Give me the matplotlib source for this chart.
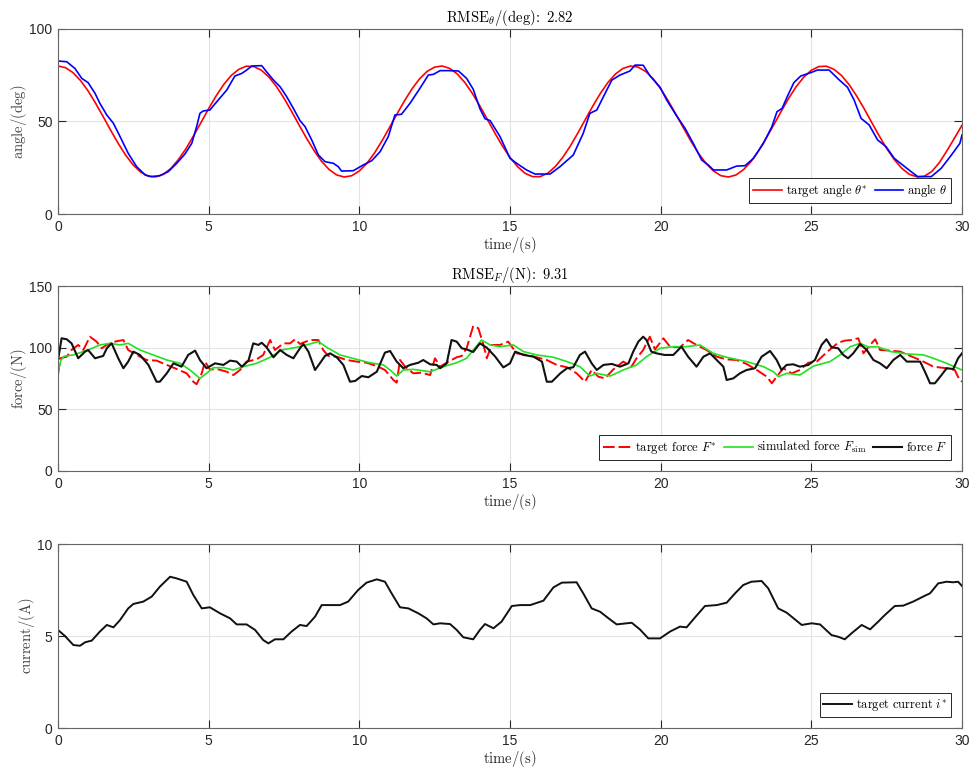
import numpy as np
import matplotlib
matplotlib.use('Agg')
import matplotlib.pyplot as plt

# --- MATLAB-like look: Helvetica-ish ticks, Computer Modern labels ---
plt.rcParams.update({
    'font.family': ['Liberation Sans', 'DejaVu Sans'],
    'mathtext.fontset': 'cm',
    'font.size': 10,
    'axes.edgecolor': '#666666', 'axes.linewidth': 0.8,
    'xtick.color': '#262626', 'ytick.color': '#262626',
    'xtick.direction': 'in', 'ytick.direction': 'in',
    'xtick.top': True, 'ytick.right': True,
    'xtick.major.size': 5.5, 'ytick.major.size': 5.5,
    'xtick.major.width': 0.8, 'ytick.major.width': 0.8,
    'xtick.labelsize': 10, 'ytick.labelsize': 10,
})

# ---------------- data ----------------
t_angle_ref = np.arange(0, 30.01, 0.25)
angle_ref = [
    80.0, 79.1, 76.4, 72.1, 66.5, 59.8, 52.6, 45.2, 38.1, 31.7,
    26.4, 22.6, 20.4, 20.1, 21.5, 24.7, 29.5, 35.4, 42.3, 49.6,
    57.0, 63.9, 70.0, 74.9, 78.2, 79.9, 79.7, 77.7, 74.0, 68.9,
    62.6, 55.5, 48.1, 40.9, 34.2, 28.4, 24.0, 21.1, 20.0, 20.7,
    23.3, 27.4, 32.9, 39.5, 46.7, 54.1, 61.2, 67.7, 73.1, 77.1,
    79.4, 80.0, 78.7, 75.7, 71.1, 65.2, 58.4, 51.1, 43.7, 36.7,
    30.6, 25.6, 22.0, 20.2, 20.2, 22.0, 25.6, 30.6, 36.7, 43.7,
    51.1, 58.4, 65.2, 71.1, 75.7, 78.7, 80.0, 79.4, 77.1, 73.1,
    67.7, 61.2, 54.1, 46.7, 39.5, 32.9, 27.4, 23.3, 20.7, 20.0,
    21.1, 24.0, 28.4, 34.2, 40.9, 48.1, 55.5, 62.6, 68.9, 74.0,
    77.7, 79.7, 79.9, 78.2, 74.9, 70.0, 63.9, 57.0, 49.6, 42.3,
    35.4, 29.5, 24.7, 21.5, 20.1, 20.4, 23.0, 27.8, 34.2, 41.0,
    48.0]

t_angle = [0, 0.29, 0.56, 0.79, 1.0, 1.23, 1.39, 1.62, 1.84, 2.06, 2.33, 2.61, 2.89, 3.1, 3.38,
           3.66, 3.94, 4.21, 4.44, 4.6, 4.71, 4.82, 5.04, 5.27, 5.6, 5.87, 6.1, 6.26, 6.43, 6.76,
           6.92, 7.15, 7.37, 7.59, 7.81, 8.03, 8.2, 8.42, 8.64, 8.86, 9.14, 9.3, 9.41, 9.8, 10.13,
           10.41, 10.69, 10.96, 11.18, 11.4, 11.68, 12.01, 12.29, 12.46, 12.68, 12.95, 13.29, 13.56,
           13.78, 14.0, 14.17, 14.34, 14.67, 15.0, 15.22, 15.55, 15.83, 16.33, 16.66, 17.1, 17.43,
           17.65, 17.88, 18.1, 18.38, 18.65, 18.98, 19.15, 19.42, 19.65, 19.98, 20.2, 20.53, 20.81,
           21.08, 21.36, 21.58, 21.75, 22.19, 22.52, 22.8, 23.08, 23.41, 23.69, 23.86, 24.03, 24.2,
           24.42, 24.65, 24.98, 25.2, 25.59, 25.76, 25.93, 26.2, 26.42, 26.65, 26.92, 27.2, 27.48,
           27.75, 28.03, 28.31, 28.53, 28.98, 29.31, 29.65, 29.93, 30.0]
angle = [82.7, 82.3, 78.7, 73.3, 71.0, 65.2, 59.8, 53.5, 49.0, 41.8, 32.8, 25.6, 21.1, 20.2, 20.7,
         22.9, 27.4, 32.4, 38.2, 47.2, 54.4, 55.7, 56.2, 60.7, 67.0, 74.6, 76.0, 77.8, 80.0, 80.2,
         76.9, 72.4, 68.8, 63.4, 57.1, 50.5, 47.2, 40.0, 31.9, 28.3, 27.4, 25.6, 23.2, 23.4, 26.5,
         28.8, 33.7, 41.8, 53.5, 53.9, 59.8, 67.9, 75.1, 75.5, 77.5, 77.5, 77.3, 73.3,
         67.4, 57.0, 51.5, 50.5, 41.8, 30.1, 27.4, 23.8, 21.6, 21.6, 25.6, 31.9, 43.6,
         54.4, 56.2, 63.4, 72.4, 75.1, 77.3, 80.5, 80.4, 74.6, 68.5, 61.6, 53.0, 46.3,
         38.2, 29.2, 26.5, 23.8, 23.8, 25.9, 26.1, 30.1, 38.2, 47.2, 55.3, 57.1, 63.4,
         71.0, 74.6, 76.4, 77.8, 77.8, 75.1, 72.4, 68.5, 61.6, 51.7, 48.1, 40.0, 36.4,
         30.1, 26.5, 22.9, 20.2, 20.2, 24.7, 31.9, 38.2, 42.7]

t_force_ref = [0, 0.07, 0.29, 0.45, 0.67, 0.84, 1.06, 1.28, 1.45, 1.62, 1.89, 2.17, 2.33, 2.61, 2.94,
               3.27, 3.61, 3.94, 4.27, 4.49, 4.6, 4.77, 4.88, 5.04, 5.32, 5.6, 5.82, 6.04, 6.26, 6.59,
               6.81, 7.04, 7.2, 7.48, 7.7, 7.87, 8.03, 8.36, 8.64, 8.8, 8.97, 9.25, 9.58, 9.91, 10.24,
               10.58, 10.85, 11.13, 11.24, 11.35, 11.52, 11.79, 12.07, 12.35, 12.51, 12.68, 12.96,
               13.23, 13.4, 13.56, 13.78, 13.95, 14.12, 14.23, 14.39, 14.67, 14.94, 15.22, 15.55,
               15.89, 16.22, 16.55, 16.89, 17.21, 17.49, 17.71, 17.93, 18.15, 18.43, 18.76, 19.03,
               19.2, 19.42, 19.64, 19.81, 20.09, 20.31, 20.64, 20.91, 21.19, 21.52, 21.86, 22.19,
               22.52, 22.85, 23.19, 23.52, 23.69, 23.85, 24.07, 24.35, 24.62, 24.9, 25.18, 25.5,
               25.73, 25.89, 26.11, 26.33, 26.56, 26.73, 26.95, 27.12, 27.28, 27.64, 27.95, 28.28,
               28.61, 29.05, 29.49, 29.76, 29.92, 30.0]
force_ref = [77.8, 91.4, 92.7, 98.1, 102.2, 98.1, 108.9, 104.9, 99.5, 102.2, 104.9, 106.2, 98.1, 94.1, 90.0,
             89.5, 86.0, 82.7, 79.2, 72.4, 70.3, 79.2, 88.7, 82.4, 82.4, 80.5, 77.8, 81.9, 88.7, 90.5,
             94.1, 106.2, 98.1, 103.5, 103.5, 106.8, 103.0, 106.2, 106.2, 98.1, 93.3, 92.7, 90.0, 88.7, 87.8,
             85.1, 81.9, 73.8, 71.6, 90.0, 84.6, 79.2, 79.7, 77.8, 91.4, 84.6, 88.7,
             92.2, 93.3, 99.5, 117.6, 115.7, 102.2, 91.4, 102.2, 102.2, 104.9, 95.4, 94.1,
             92.2, 90.0, 86.0, 84.1, 79.2, 72.4, 81.9, 76.5, 75.1, 82.4, 88.7, 84.6,
             91.4, 98.1, 108.9, 98.6, 107.6, 100.8, 100.3, 106.2, 102.2, 98.1, 92.7, 90.5,
             90.0, 86.8, 81.9, 76.5, 71.1, 76.5, 83.3, 79.2, 81.9, 87.8, 88.7, 96.0,
             100.8, 104.0, 105.7, 106.2, 107.6, 95.4, 102.2, 106.8, 98.1, 97.6, 96.8, 93.3,
             90.0, 84.6, 83.3, 81.9, 73.8, 72.4]

t_force_sim = [0, 0.1, 0.2, 0.51, 1.0, 1.39, 1.73, 2.06, 2.33, 2.72, 3.16, 3.61, 4.05, 4.38, 4.71, 4.93,
               5.15, 5.49, 5.82, 6.15, 6.59, 7.04, 7.42, 7.92, 8.36, 8.64, 8.97, 9.36, 9.91, 10.35,
               10.8, 11.02, 11.24, 11.46, 11.79, 12.35, 12.79, 13.23, 13.56, 13.78, 14.06, 14.34,
               14.67, 15.11, 15.45, 15.89, 16.45, 16.89, 17.32, 17.65, 17.88, 18.32, 18.76, 19.2,
               19.53, 19.98, 20.42, 20.86, 21.3, 21.75, 22.19, 22.85, 23.41, 23.74, 23.91, 24.18,
               24.62, 25.07, 25.62, 25.95, 26.29, 26.62, 26.9, 27.2, 27.64, 28.19, 28.72, 29.05,
               29.49, 30.0]
force_sim = [80.0, 90.0, 93.0, 94.1, 98.1, 102.2, 103.5, 102.2, 103.5, 98.1, 94.1, 90.0, 87.3, 81.9, 75.1, 79.2,
             83.8, 83.8, 81.9, 84.6, 87.3, 92.2, 98.1, 100.3, 103.0, 104.9, 99.5, 94.1, 90.5, 87.8,
             86.0, 81.9, 77.0, 81.9, 82.4, 80.5, 84.6, 87.8, 91.4, 98.1, 106.2, 102.2,
             100.8, 102.2, 96.8, 94.1, 92.2, 88.7, 84.6, 77.0, 79.2, 77.0, 81.9, 86.0,
             92.7, 99.5, 100.8, 100.8, 102.2, 95.4, 92.2, 88.7, 84.6, 80.5, 76.5, 79.2,
             77.8, 85.1, 88.7, 94.1, 100.8, 103.5, 100.5, 100.8, 96.8, 94.9, 94.1, 91.4,
             87.3, 81.9]

t_force = [0, 0.12, 0.29, 0.45, 0.67, 0.9, 1.0, 1.23, 1.5, 1.62, 1.78, 2.0, 2.17, 2.33, 2.5, 2.72, 3.0,
           3.27, 3.38, 3.61, 3.83, 4.1, 4.32, 4.55, 4.71, 4.93, 5.21, 5.49, 5.71, 5.93, 6.1, 6.32, 6.48,
           6.65, 6.76, 6.92, 7.15, 7.37, 7.59, 7.81, 8.03, 8.14, 8.31, 8.53, 8.69, 8.86, 9.03, 9.25,
           9.47, 9.69, 9.86, 10.08, 10.3, 10.58, 10.85, 11.02, 11.24, 11.46, 11.68, 11.96, 12.12,
           12.35, 12.57, 12.68, 12.9, 13.06, 13.23, 13.4, 13.56, 13.78, 14.0, 14.23, 14.5, 14.78,
           15.0, 15.17, 15.45, 15.78, 16.06, 16.22, 16.39, 16.67, 16.89, 17.1, 17.32, 17.49, 17.71,
           17.88, 18.1, 18.38, 18.65, 18.93, 19.09, 19.26, 19.42, 19.53, 19.69, 19.86, 20.13, 20.42,
           20.69, 20.91, 21.19, 21.42, 21.64, 21.86, 22.08, 22.19, 22.41, 22.63, 22.85, 23.13, 23.35,
           23.63, 23.85, 24.01, 24.18, 24.4, 24.62, 24.9, 25.12, 25.34, 25.5, 25.67, 25.89, 26.06,
           26.22, 26.39, 26.62, 26.84, 27.06, 27.28, 27.5, 27.72, 27.95, 28.17, 28.39, 28.61, 28.77,
           28.94, 29.1, 29.32, 29.49, 29.71, 29.87, 30.0]
force = [90.0, 107.6, 106.8, 103.5, 91.4, 96.8, 98.1, 91.4, 93.3, 99.5, 103.5, 91.4, 83.3, 88.7, 96.8, 94.1, 86.0,
         72.4, 72.4, 79.2, 87.3, 84.6, 94.1, 97.6, 90.0, 83.3, 87.3, 86.0, 89.5, 88.7, 84.6, 89.5, 103.5,
         102.2, 104.0, 100.3, 92.2, 98.1, 94.1, 91.4, 99.5, 103.0, 96.8, 81.9, 87.3, 93.3, 95.4, 92.2,
         86.0, 72.4, 73.0, 77.0, 76.0, 80.5, 96.0, 97.3, 88.7, 83.3, 86.0, 87.8, 90.0,
         86.5, 86.0, 83.3, 87.3, 106.2, 104.9, 99.5, 98.6, 96.5, 103.5, 100.0, 93.0, 84.0,
         87.3, 96.8, 94.1, 92.7, 88.7, 72.4, 72.4, 79.2, 83.3, 84.1, 94.1, 96.8, 87.3,
         81.9, 86.0, 86.8, 84.6, 87.3, 96.8, 104.9, 108.9, 106.2, 96.8, 95.4, 94.1, 94.1,
         100.8, 92.7, 84.6, 92.7, 95.4, 90.0, 84.6, 73.8, 75.1, 79.2, 81.9, 83.3, 92.7,
         97.3, 90.0, 81.9, 86.0, 86.5, 84.6, 86.0, 90.0, 102.2, 106.8, 100.3, 99.5, 94.1,
         91.4, 95.4, 103.0, 98.1, 90.0, 87.3, 83.3, 90.0, 94.1, 88.7, 88.7, 88.7, 80.5,
         71.1, 71.1, 77.8, 83.3, 82.7, 91.4, 95.4]

t_current = [0, 0.23, 0.51, 0.73, 0.9, 1.12, 1.39, 1.62, 1.84, 2.06, 2.33, 2.5, 2.83, 3.11, 3.38, 3.72,
             3.94, 4.27, 4.49, 4.77, 5.04, 5.38, 5.71, 5.93, 6.26, 6.54, 6.81, 6.98, 7.2, 7.48, 7.75,
             8.03, 8.25, 8.53, 8.75, 9.03, 9.36, 9.63, 9.96, 10.24, 10.58, 10.85, 11.07, 11.35, 11.63,
             11.96, 12.23, 12.46, 12.68, 13.01, 13.23, 13.45, 13.78, 14.0, 14.17, 14.45, 14.72, 15.06,
             15.33, 15.67, 16.11, 16.44, 16.72, 17.21, 17.43, 17.71, 17.99, 18.27, 18.54, 19.04, 19.31,
             19.59, 19.98, 20.31, 20.64, 20.86, 21.14, 21.47, 21.86, 22.19, 22.47, 22.74, 23.01, 23.35,
             23.57, 23.9, 24.18, 24.45, 24.68, 25.01, 25.29, 25.67, 25.89, 26.11, 26.33, 26.67, 26.95,
             27.22, 27.44, 27.77, 28.05, 28.38, 28.77, 28.94, 29.21, 29.49, 29.71, 29.87, 30.0]
current = [5.33, 5.0, 4.51, 4.47, 4.66, 4.75, 5.24, 5.6, 5.47, 5.87, 6.5, 6.74, 6.87, 7.14, 7.68, 8.22,
           8.13, 7.95, 7.23, 6.5, 6.56, 6.23, 5.96, 5.63, 5.63, 5.33, 4.78, 4.6, 4.82, 4.82, 5.24,
           5.6, 5.54, 6.05, 6.68, 6.68, 6.68, 6.87, 7.5, 7.9, 8.08, 7.95, 7.32, 6.56, 6.5,
           6.23, 5.96, 5.63, 5.69, 5.65, 5.33, 4.93, 4.82, 5.33, 5.65, 5.42, 5.78, 6.63,
           6.68, 6.68, 6.92, 7.64, 7.9, 7.92, 7.32, 6.5, 6.32, 5.96, 5.63, 5.72, 5.36,
           4.87, 4.87, 5.24, 5.51, 5.47, 6.01, 6.63, 6.68, 6.81, 7.32, 7.77, 7.95, 7.99,
           7.59, 6.5, 6.27, 5.91, 5.6, 5.69, 5.63, 5.05, 4.96, 4.82, 5.14, 5.6, 5.36,
           5.78, 6.14, 6.63, 6.65, 6.87, 7.19, 7.32, 7.86, 7.95, 7.92, 7.95, 7.72]

rmse_angle = 2.82
rmse_force = 9.31

# ---------------- plot ----------------
LAB = 10.5
fig = plt.figure(figsize=(9.69, 7.69), dpi=100)
W, H = 969, 769
def _axes(top_px, bottom_px):
    return fig.add_axes([58 / W, 1 - bottom_px / H, 904 / W, (bottom_px - top_px) / H])

def _style(ax, ylim, yticks, ylabel):
    ax.set_xlim(0, 30)
    ax.set_ylim(*ylim)
    ax.set_xticks([0, 5, 10, 15, 20, 25, 30])
    ax.set_yticks(yticks)
    ax.grid(True, color='#e3e3e3', lw=0.8)
    ax.set_axisbelow(True)
    ax.tick_params(pad=4)
    ax.set_xlabel(r'$\mathrm{time/(s)}$', fontsize=LAB, color='#262626', labelpad=1)
    ax.set_ylabel(ylabel, fontsize=LAB, color='#404040', labelpad=0)

def _legend(ax, ncol):
    lg = ax.legend(loc='lower right', ncol=ncol, fontsize=9, fancybox=False, framealpha=1,
                   edgecolor='#262626', borderpad=0.3, handlelength=2.3, handletextpad=0.3,
                   columnspacing=0.6, borderaxespad=0.9)
    lg.get_frame().set_linewidth(0.7)

# (a) angle
ax = _axes(29, 214)
ax.plot(t_angle_ref, angle_ref, color='#ff0000', lw=1.2, label=r'$\mathrm{target\ angle}\ \theta^{*}$')
ax.plot(t_angle, angle, color='#0000ff', lw=1.2, label=r'$\mathrm{angle}\ \theta$')
_style(ax, (0, 100), [0, 50, 100], r'$\mathrm{angle/(deg)}$')
ax.set_title(r'$\mathrm{RMSE}_{\theta}/\mathrm{(deg)}\!:\ %.2f$' % rmse_angle, fontsize=LAB, pad=5)
_legend(ax, 2)

# (b) force
ax = _axes(286, 471)
ax.plot(t_force_ref, force_ref, color='#ff0000', lw=1.4, ls='--', dashes=(6, 2),
        label=r'$\mathrm{target\ force}\ F^{*}$')
ax.plot(t_force_sim, force_sim, color='#22e022', lw=1.2,
        label=r'$\mathrm{simulated\ force}\ F_{\mathrm{sim}}$')
ax.plot(t_force, force, color='#111111', lw=1.5, label=r'$\mathrm{force}\ F$')
_style(ax, (0, 150), [0, 50, 100, 150], r'$\mathrm{force/(N)}$')
ax.set_title(r'$\mathrm{RMSE}_{F}/\mathrm{(N)}\!:\ %.2f$' % rmse_force, fontsize=LAB, pad=5)
_legend(ax, 3)

# (c) current
ax = _axes(544, 728)
ax.plot(t_current, current, color='#111111', lw=1.4, label=r'$\mathrm{target\ current}\ i^{*}$')
_style(ax, (0, 10), [0, 5, 10], r'$\mathrm{current/(A)}$')
_legend(ax, 1)

fig.savefig('out.png', dpi=100)
